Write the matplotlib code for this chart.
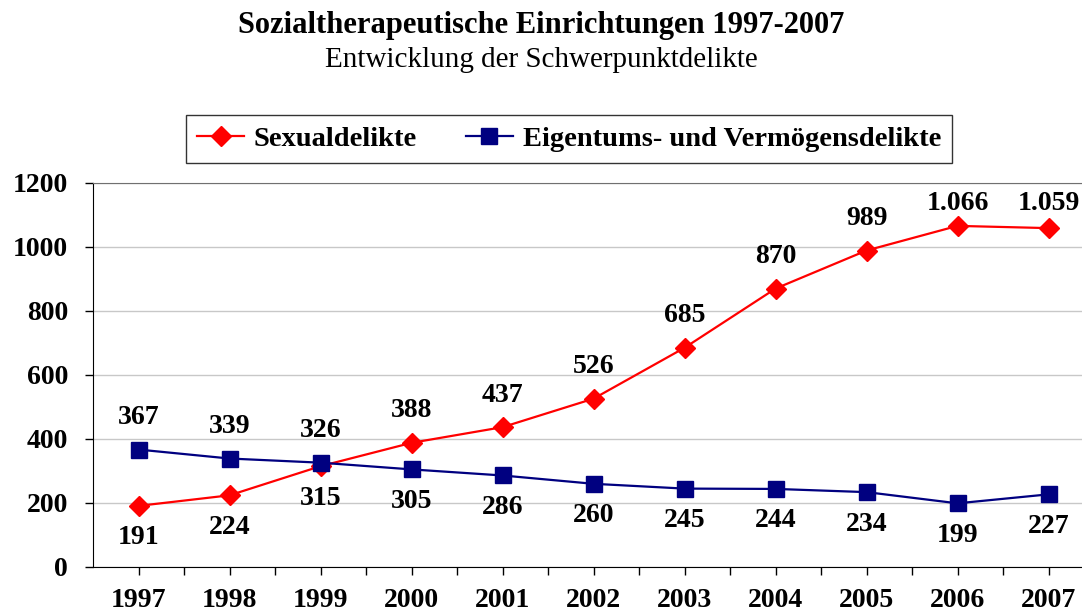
import matplotlib.pyplot as plt
from matplotlib.ticker import FixedLocator

years = [1997, 1998, 1999, 2000, 2001, 2002, 2003, 2004, 2005, 2006, 2007]
sexual = [191, 224, 315, 388, 437, 526, 685, 870, 989, 1066, 1059]
property_ = [367, 339, 326, 305, 286, 260, 245, 244, 234, 199, 227]
sexual_labels = ['191', '224', '315', '388', '437', '526', '685', '870', '989', '1.066', '1.059']
property_labels = ['367', '339', '326', '305', '286', '260', '245', '244', '234', '199', '227']

plt.rcParams['font.family'] = ['Liberation Serif', 'DejaVu Serif']

fig = plt.figure(figsize=(10.82, 6.16), dpi=100)
ax = fig.add_axes([93 / 1082, 49 / 616, 1001 / 1082, 384 / 616])

ax.plot(years, sexual, color='#ff0000', lw=1.6, marker='D', markersize=10,
        label='Sexualdelikte', zorder=3)
ax.plot(years, property_, color='#000080', lw=1.6, marker='s', markersize=11,
        label='Eigentums- und Vermögensdelikte', zorder=3)

# value labels: higher series above, lower series below (kept inside plot area)
px_per_unit = 384 / 1200
for x, s, p, sl, pl in zip(years, sexual, property_, sexual_labels, property_labels):
    if s > p:
        top, top_lbl, bot, bot_lbl = s, sl, p, pl
    else:
        top, top_lbl, bot, bot_lbl = p, pl, s, sl
    room = (1200 - top) * px_per_unit / 1.389 - 24
    ax.annotate(top_lbl, (x, top), xytext=(0, min(14, room)), textcoords='offset points',
                ha='center', va='bottom', fontsize=20, fontweight='bold')
    ax.annotate(bot_lbl, (x, bot), xytext=(0, -14), textcoords='offset points',
                ha='center', va='top', fontsize=20, fontweight='bold')

ax.set_xlim(1996.5, 2007.5)
ax.set_ylim(0, 1200)
ax.set_yticks(range(0, 1201, 200))
ax.set_xticks(years)
ax.xaxis.set_minor_locator(FixedLocator([y + 0.5 for y in years]))
ax.tick_params(axis='x', which='both', length=6, width=1, direction='out', pad=9,
               labelsize=20)
ax.tick_params(axis='y', length=6, width=1, direction='out', pad=12, labelsize=20)
for lbl in ax.get_xticklabels() + ax.get_yticklabels():
    lbl.set_fontweight('bold')

ax.grid(axis='y', color='#c8c8c8', lw=1)
ax.set_axisbelow(True)
ax.spines['top'].set_color('#707070')
ax.spines['right'].set_visible(False)

fig.text(0.5, 0.958, 'Sozialtherapeutische Einrichtungen 1997-2007', ha='center',
         va='center', fontsize=22, fontweight='bold')
fig.text(0.5, 0.903, 'Entwicklung der Schwerpunktdelikte', ha='center', va='center',
         fontsize=21)

leg = fig.legend(loc='center', bbox_to_anchor=(569 / 1082, 1 - 139 / 616), ncol=2,
                 prop={'weight': 'bold', 'size': 20.5}, frameon=True, fancybox=False,
                 edgecolor='black', handlelength=1.65, handletextpad=0.35,
                 columnspacing=1.7, borderpad=0.4)
leg.get_frame().set_linewidth(1)

fig.savefig('out.png', dpi=100)
